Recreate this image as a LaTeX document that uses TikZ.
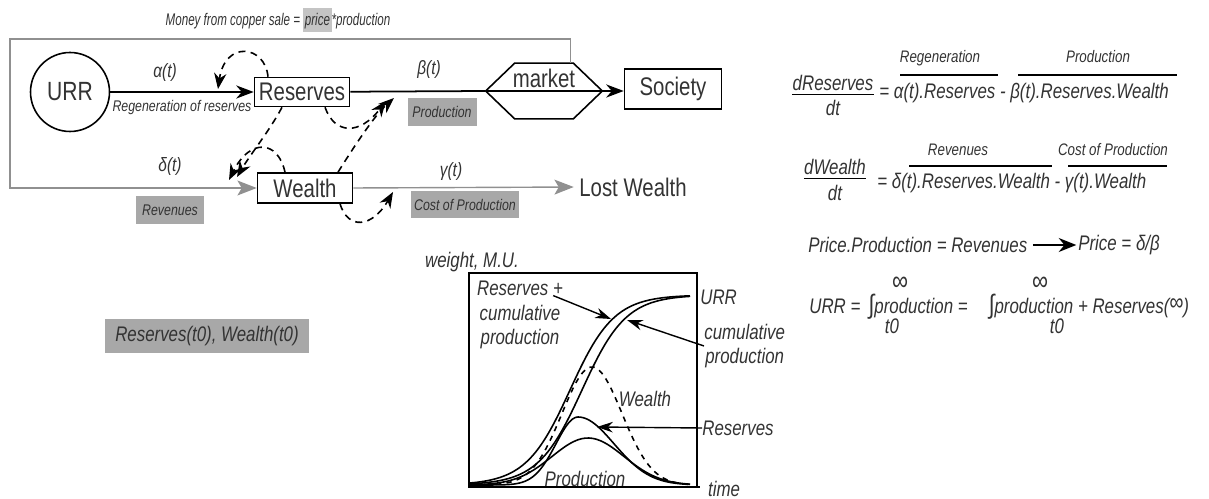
\documentclass[tikz,border=0pt]{standalone}
\usepackage{fontspec}
\usepackage{graphicx}
\setmainfont[FakeStretch=0.8]{Liberation Sans}
\usetikzlibrary{arrows.meta,positioning}
\definecolor{tagfill}{HTML}{A8A8A8}
\definecolor{hilite}{HTML}{C4C4C4}
\definecolor{txtdark}{HTML}{333333}
\definecolor{linegray}{HTML}{909090}

\begin{document}
\begin{tikzpicture}[x=0.02cm, y=-0.02cm,
  every node/.style={text=txtdark},
  box/.style={draw=black, line width=0.9pt, fill=white, font=\fontsize{14.5}{16}\selectfont, inner sep=0pt},
  big/.style={font=\fontsize{14.5}{16}\selectfont, inner sep=0pt},
  lbl/.style={font=\fontsize{11}{13}\selectfont\itshape},
  small/.style={font=\fontsize{8.8}{10}\selectfont\itshape},
  tag/.style={fill=tagfill, font=\fontsize{8.8}{10}\selectfont\itshape, inner sep=0pt},
  eq/.style={font=\fontsize{12}{14}\selectfont\itshape, inner sep=0pt},
  eqtop/.style={font=\fontsize{9.5}{11}\selectfont\itshape, inner sep=0pt},
  flow/.style={line width=1pt, -{Stealth[length=10pt,width=7.5pt]}},
  gflow/.style={draw=linegray, line width=0.8pt, -{Stealth[length=11pt,width=8.5pt,inset=2.5pt]}},
  fb/.style={line width=0.9pt, dash pattern=on 4pt off 3pt, -{Stealth[length=9pt,width=7pt]}},
  pointer/.style={line width=0.8pt, -{Stealth[length=9pt,width=6pt]}},
  curve/.style={line width=0.9pt}
]
\useasboundingbox (0,0) rectangle (1209,499);

% flow diagram
\node[small, font=\fontsize{9.6}{11}\selectfont\itshape] (money) at (278,20) {\scalebox{0.86}[1]{Money from copper sale = {\setlength{\fboxsep}{1pt}\colorbox{hilite}{\rule[-3pt]{0pt}{12pt}price}}*production}};
\node[draw, circle, line width=0.9pt, minimum size=1.58cm, inner sep=0pt, font=\fontsize{15}{17}\selectfont] (urr) at (70,92) {URR};
\node[box, minimum width=1.9cm, minimum height=0.58cm] (res) at (302,92) {Reserves};
\node[minimum width=2.32cm, minimum height=1.1cm, inner sep=0pt] (mkt) at (544,91) {};
\draw[line width=0.9pt] (mkt.west) -- ([xshift=0.58cm]mkt.north west) -- ([xshift=-0.58cm]mkt.north east) -- (mkt.east) -- ([xshift=-0.58cm]mkt.south east) -- ([xshift=0.58cm]mkt.south west) -- cycle;
\node[big] (mktlbl) at (544,78) {market};
\node[box, minimum width=1.94cm, minimum height=0.8cm] (soc) at (673,89) {Society};
\node[box, minimum width=1.9cm, minimum height=0.6cm] (wea) at (305,188) {Wealth};
\node[big, anchor=west] (lost) at (579,187) {Lost Wealth};

\draw[flow] (urr) -- (res);
\draw[line width=1pt] (res) -- (mkt.west);
\draw[line width=0.9pt] (mkt.west) -- (mkt.east);
\draw[flow] (mkt.east) -- (mkt.east -| soc.west);
\draw[gflow] ([xshift=-0.64cm]mkt.north east) |- (10,39) |- (wea.west);
\draw[gflow, shorten >=3pt] (wea.east) -- (lost.west);

\node[lbl] (alpha) at (165,73) {α(t)};
\node[small] (regen) at (182,108) {Regeneration of reserves};
\node[lbl] (beta) at (429,70) {β(t)};
\node[tag, minimum width=1.38cm, minimum height=0.56cm] (prodtag) at (442,112) {Production};
\node[lbl] (delta) at (170,167) {δ(t)};
\node[tag, minimum width=1.38cm, minimum height=0.56cm] (revtag) at (170,210) {Revenues};
\node[lbl] (gamma) at (451,172) {γ(t)};
\node[tag, minimum width=2.16cm, minimum height=0.54cm] (costtag) at (465,205) {Cost of Production};
\node[tag, font=\fontsize{12}{14}\selectfont\itshape, minimum width=4.08cm, minimum height=0.7cm] (init) at (207,336) {Reserves(t0), Wealth(t0)};

% feedback loops
\coordinate (aIn) at (218,89);
\coordinate (dInA) at (237,177);
\coordinate (dInB) at (229,180);
\coordinate (bInA) at (386,101);
\coordinate (bInB) at (394,98);
\coordinate (gIn) at (393,192);
\draw[fb] ([xshift=-0.68cm]res.north) .. controls (265,45) and (225,40) .. (aIn);
\draw[fb] ([xshift=-0.4cm]res.south) .. controls (270,130) and (250,155) .. (dInA);
\draw[fb] ([xshift=-0.4cm]wea.north) .. controls (278,140) and (250,138) .. (dInB);
\draw[fb] ([xshift=0.46cm]res.south) .. controls (335,135) and (360,135) .. (bInA);
\draw[fb] ([xshift=0.66cm]wea.north) .. controls (355,145) and (375,115) .. (bInB);
\draw[fb] ([xshift=0.7cm]wea.south) .. controls (348,230) and (372,228) .. (gIn);

% equations
\node[eq] (dres) at (833,83) {dReserves};
\draw[line width=0.8pt] ([yshift=-2pt]dres.south west) -- ([yshift=-2pt]dres.south east);
\node[eq] (dtA) at (833,108) {dt};
\node[eq, anchor=west] (eqA) at (879,93) {= α(t).Reserves - β(t).Reserves.Wealth};
\node[eqtop] (regenlbl) at (940,58) {Regeneration};
\draw[line width=0.8pt] (900,75) -- (998,75);
\node[eqtop] (prodlbl) at (1098,57) {Production};
\draw[line width=0.8pt] (1018,75) -- (1177,75);

\node[eq] (dwea) at (835,167) {dWealth};
\draw[line width=0.8pt] ([yshift=-2pt]dwea.south west) -- ([yshift=-2pt]dwea.south east);
\node[eq] (dtB) at (835,193) {dt};
\node[eq, anchor=west] (eqB) at (877,183) {= δ(t).Reserves.Wealth - γ(t).Wealth};
\node[eqtop] (revlbl) at (958,150) {Revenues};
\draw[line width=0.8pt] (909,166) -- (1052,166);
\node[eqtop] (costlbl) at (1113,150) {Cost of Production};
\draw[line width=0.8pt] (1068,166) -- (1167,166);

\node[eq, anchor=west] (pp) at (808,245) {Price.Production = Revenues};
\node[eq, anchor=west] (price) at (1078,245) {Price = δ/β};
\draw[line width=1pt, -{Stealth[length=10pt,width=8pt]}, shorten <=3pt, shorten >=1pt] (pp) -- (price);

\node[eq, anchor=west] (urreq) at (809,307) {URR = \,{\fontsize{15}{15}\selectfont ∫}production =\quad {\fontsize{15}{15}\selectfont ∫}production + Reserves(\raisebox{2pt}{\fontsize{14}{14}\selectfont ∞})};
\node[eq, font=\fontsize{16}{16}\selectfont] (infA) at (900,284) {∞};
\node[eq] (tA) at (892,326) {t0};
\node[eq, font=\fontsize{16}{16}\selectfont] (infB) at (1040,284) {∞};
\node[eq] (tB) at (1057,326) {t0};

% plot
\draw[line width=0.9pt] (469,273) rectangle (697,487);
\draw[line width=1.3pt] (469,487) -- (700,487);
\node[eq] (weight) at (472,262) {weight, M.U.};
\node[eq] (time) at (724,489) {time};
\draw[curve] plot[domain=469:690, samples=80, smooth] (\x, {485-190/(1+exp(-(\x-570)/22))});
\draw[curve] plot[domain=469:690, samples=80, smooth] (\x, {485-190/(1+exp(-(\x-582)/22))});
\draw[curve, dashed] plot[domain=475:688, samples=60, smooth] (\x, {485-118*exp(-((\x-592)/30)^2/2)});
\draw[curve] plot[domain=469:578, samples=40, smooth] (\x, {485-68*exp(-((\x-578)/22)^2/2)}) -- plot[domain=578:690, samples=40, smooth] (\x, {485-68*exp(-((\x-578)/36)^2/2)});
\draw[curve] plot[domain=469:690, samples=60, smooth] (\x, {485-47*exp(-((\x-588)/36)^2/2)});

\node[eq, align=center] (rcp) at (520,315) {Reserves +\\cumulative\\production};
\coordinate (rcpTip) at (611,319);
\draw[pointer] ([xshift=-0.2cm,yshift=-0.3cm]rcp.north east) -- (rcpTip);
\node[eq, anchor=west] (urrlbl) at (700,297) {URR};
\node[eq, align=center, anchor=west] (cumlbl) at (704,346) {cumulative\\production};
\coordinate (cumTip) at (627,320);
\draw[pointer] (cumlbl.west) -- (cumTip);
\node[eq, anchor=west] (reslbl) at (702,428) {Reserves};
\coordinate (resTip) at (597,427);
\draw[pointer] (reslbl.west) -- (resTip);
\node[eq] (wlbl) at (645,399) {Wealth};
\node[eq] (plbl) at (585,479) {Production};
\end{tikzpicture}
\end{document}
